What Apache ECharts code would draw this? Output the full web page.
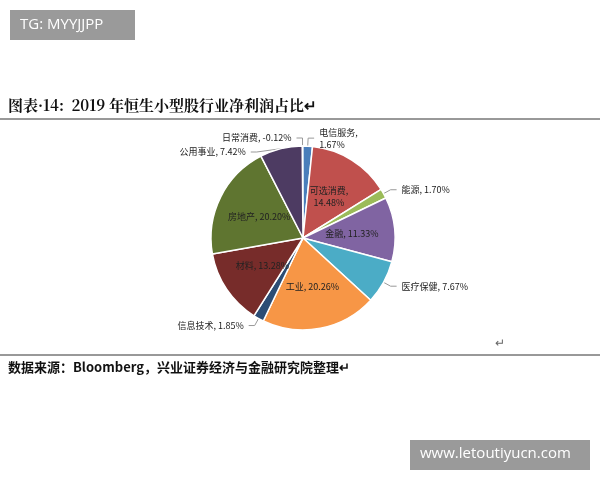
<!DOCTYPE html>
<html><head><meta charset="utf-8">
<script src="https://cdn.jsdelivr.net/npm/echarts@6/dist/echarts.min.js"></script>
<style>html,body{margin:0;background:#fff}#c{width:600px;height:480px}</style>
</head><body><div id="c"></div>
<script>
const names = ['日常消费','电信服务','可选消费','能源','金融','医疗保健','工业','信息技术','材料','房地产','公用事业'];
const values = [-0.12,1.67,14.48,1.70,11.33,7.67,20.26,1.85,13.28,20.20,7.42];
const colors = ['#d9d9d9','#4a7ebb','#c0504d','#9bbb59','#8064a2','#4bacc6','#f79646','#2c4d75','#772c2a','#5f7530','#4d3b62'];
const inside = ['可选消费','金融','工业','材料','房地产'];
const twoLine = ['电信服务','可选消费'];

const chart = echarts.init(document.getElementById('c'));
const font = '"Noto Sans CJK SC", sans-serif';
chart.setOption({
  animation: false,
  graphic: [
    {type:'rect', shape:{x:10,y:10,width:125,height:30}, style:{fill:'#9a9a9a'}},
    {type:'text', x:20, y:17, style:{text:'TG: MYYJJPP', fill:'#fff', font:'15px "Open Sans", sans-serif'}},
    {type:'text', x:8, y:98, style:{text:'图表·14:  2019 年恒生小型股行业净利润占比↵', fill:'#111', font:'bold 15px "Noto Serif CJK SC","Noto Sans CJK SC", serif'}},
    {type:'line', shape:{x1:0,y1:119,x2:600,y2:119}, style:{stroke:'#333', lineWidth:1}},
    {type:'line', shape:{x1:0,y1:355,x2:600,y2:355}, style:{stroke:'#333', lineWidth:1}},
    {type:'text', x:495, y:338, style:{text:'↵', fill:'#666', font:'12px sans-serif'}},
    {type:'text', x:8, y:361, style:{text:'数据来源：Bloomberg，兴业证券经济与金融研究院整理↵', fill:'#111', font:'bold 13px "Noto Sans CJK SC", serif'}},
    {type:'rect', shape:{x:410,y:440,width:180,height:30}, style:{fill:'#9a9a9a'}},
    {type:'text', x:420, y:446, style:{text:'www.letoutiyucn.com', fill:'#fff', font:'15px "Open Sans", sans-serif'}}
  ],
  series: [{
    type: 'pie',
    center: [303, 238],
    radius: 92,
    startAngle: 90.5,
    clockwise: true,
    itemStyle: {borderColor:'#fff', borderWidth:1.5},
    labelLine: {length: 8, length2: 6, lineStyle:{color:'#999'}},
    data: names.map((n, i) => ({
      name: n,
      value: Math.abs(values[i]),
      itemStyle: {color: colors[i]},
      label: inside.includes(n) ? {position:'inner'} : {position:'outside'},
      labelLine: {show: !inside.includes(n)}
    })),
    label: {
      fontFamily: font, fontSize: 9, color: '#222', lineHeight: 12,
      formatter: p => p.name + ',' + (twoLine.includes(p.name) ? '\n' : ' ') + values[p.dataIndex].toFixed(2) + '%'
    }
  }]
});
</script></body></html>
